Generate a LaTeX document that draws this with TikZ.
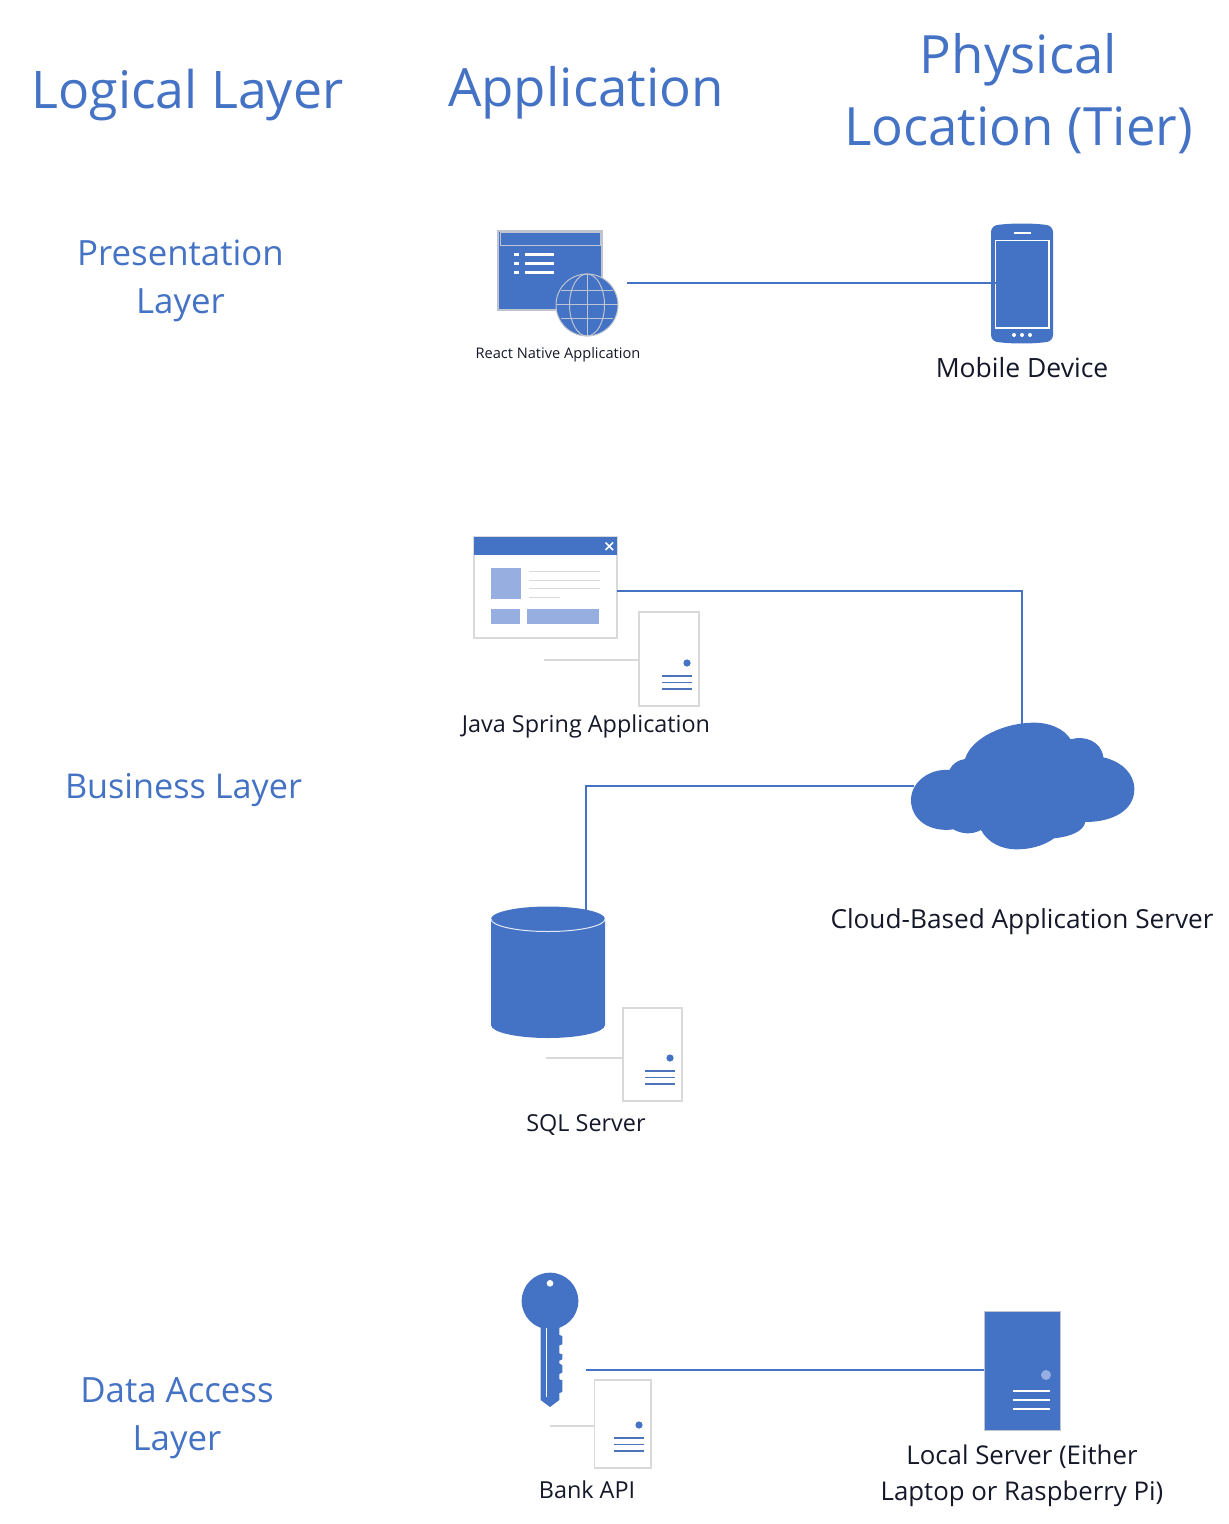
\documentclass[tikz,border=0pt]{standalone}
\usepackage{fontspec}
\setmainfont{Open Sans}
\usetikzlibrary{
  arrows.meta,
  positioning,
  calc
}
\definecolor{tierblue}{RGB}{68,114,196}
\definecolor{tierpale}{RGB}{150,174,224}
\definecolor{iconedge}{RGB}{217,217,217}
\definecolor{gridgray}{RGB}{190,196,208}
\definecolor{labelink}{RGB}{20,24,40}

% small white server box with its dot and three bars
\newcommand{\srvicon}[5]{%
  \draw[srvedge] (#1,#2) rectangle (#3,#4);
  \coordinate (srvlead#5) at (#1,#2);
  \fill[tierblue] ($(#3,#4)+(-12,-43)$) circle (3.6);
  \foreach \barup in {30,23.5,17} {
    \draw[srvbar] ($(#3,#4)+(-37,-\barup)$) -- ($(#3,#4)+(-7,-\barup)$);
  }
}

\begin{document}
\begin{tikzpicture}[
  x=0.5pt, y=-0.5pt,
  every node/.style={inner sep=0pt, text=labelink},
  headtext/.style={font=\fontsize{26.4}{36}\selectfont, text=tierblue, align=center},
  layertext/.style={font=\fontsize{17.4}{24}\selectfont, text=tierblue, align=center},
  icontext/.style={font=\fontsize{13.1}{18}\selectfont, align=center},
  smalltext/.style={font=\fontsize{11.7}{16}\selectfont},
  tinytext/.style={font=\fontsize{7.3}{10}\selectfont},
  link/.style={draw=tierblue, line width=0.75pt},
  srvedge/.style={draw=iconedge, fill=white, line width=0.75pt},
  srvbar/.style={draw=tierblue!85!gray, line width=0.95pt},
  leadline/.style={draw=iconedge, line width=0.6pt},
  >=Stealth
]
\useasboundingbox (0,0) rectangle (1229,1524);

% column and row titles
\node[headtext, font=\fontsize{25.9}{36}\selectfont] (logical) at (187.5,95) {Logical Layer};
\node[headtext] (appcol) at (586,93) {Application};
\node[headtext] (physical) at (1018.5,93.5) {Physical\\Location (Tier)};

\node[layertext] (preslayer) at (180.5,281) {Presentation\\Layer};
\node[layertext, font=\fontsize{17.1}{24}\selectfont] (busilayer) at (183.5,790) {Business Layer};
\node[layertext] (datalayer) at (177,1418) {Data Access\\Layer};

% web application window and globe
\fill[tierblue] (498,231) rectangle (602,310);
\draw[gridgray, line width=0.6pt] (498,231) rectangle (602,310);
\draw[gridgray, line width=0.5pt] (500,233) rectangle (600,246);
\foreach \rowy in {255,264,273} {
  \fill[white] (514,\rowy-1.5) rectangle (519,\rowy+1.5);
  \fill[white] (525,\rowy-1.5) rectangle (554,\rowy+1.5);
}
\fill[tierblue] (587,305) circle (31);
\draw[gridgray, line width=0.5pt] (587,305) circle (31);
\draw[gridgray, line width=0.5pt] (587,305) circle [x radius=17.5, y radius=31];
\draw[gridgray, line width=0.5pt] (587,274) -- (587,336);
\draw[gridgray, line width=0.5pt] (556,305) -- (618,305);
\draw[gridgray, line width=0.5pt] (561,291) -- (613,291);
\draw[gridgray, line width=0.5pt] (561,318.5) -- (613,318.5);
\node[tinytext] (reactlabel) at (558,355) {React Native Application};

% mobile phone
\fill[tierblue, rounded corners=3pt] (991,226) .. controls (1010,223) and (1034,223) .. (1053,226) -- (1053,341) .. controls (1034,344) and (1010,344) .. (991,341) -- cycle;
\draw[white, line width=0.6pt] (995.5,240.5) rectangle (1049,328);
\draw[white, line width=0.6pt] (1014,233) -- (1031,233);
\foreach \dotx in {1014,1022,1030} {
  \fill[white] (\dotx,335) circle (2);
}
\node[icontext, font=\fontsize{13.25}{18}\selectfont] (mobilelabel) at (1022,367.5) {Mobile Device};

% java spring window
\draw[srvedge] (474,537) rectangle (617,638);
\fill[tierblue] (474,537) rectangle (617,555);
\draw[white, line width=0.8pt] (605.5,542.5) -- (613,550) (605.5,550) -- (613,542.5);
\fill[tierpale] (491,568) rectangle (521,599);
\fill[tierpale] (491,609) rectangle (520,624);
\fill[tierpale] (527,609) rectangle (599,624);
\foreach \rowy in {571,580,588} {
  \draw[iconedge, line width=0.5pt] (529,\rowy) -- (600,\rowy);
}
\draw[iconedge, line width=0.5pt] (529,597) -- (560,597);
\coordinate (javalead) at (544,660);
\srvicon{639}{612}{699}{706}{java}
\draw[leadline] (javalead -| srvleadjava) -- (javalead);
\node[smalltext] (javalabel) at (586,726.5) {Java Spring Application};

% cloud server
\begin{scope}[shift={(900,710)}, x=1/6*1pt, y=-1/6*1pt]
  \fill[tierblue] (148,180) .. controls (158,160) and (175,150) .. (195,147)
    .. controls (215,80) and (320,38) .. (400,38)
    .. controls (450,38) and (490,55) .. (512,88)
    .. controls (555,75) and (605,95) .. (610,142)
    .. controls (665,155) and (703,190) .. (703,238)
    .. controls (703,300) and (640,336) .. (556,336)
    .. controls (550,365) and (510,380) .. (462,385)
    .. controls (430,408) and (390,418) .. (350,418)
    .. controls (300,418) and (262,395) .. (243,360)
    .. controls (215,375) and (185,372) .. (160,358)
    .. controls (90,368) and (33,330) .. (33,270)
    .. controls (33,215) and (90,175) .. (148,180) -- cycle;
\end{scope}
\node[icontext] (cloudlabel) at (1022,922) {Cloud-Based Application Server};

% sql database
\fill[tierblue] (491,919) arc[start angle=180, end angle=360, x radius=57, y radius=12.5]
  -- (605,1025) arc[start angle=0, end angle=180, x radius=57, y radius=13] -- cycle;
\draw[white!85!tierblue, line width=0.5pt] (491,919) arc[start angle=180, end angle=0, x radius=57, y radius=12.5];
\coordinate (sqllead) at (546,1058);
\srvicon{623}{1008}{682}{1101}{sql}
\draw[leadline] (sqllead -| srvleadsql) -- (sqllead);
\node[smalltext] (sqllabel) at (586,1125) {SQL Server};

% key
\begin{scope}[shift={(500,1260)}, x=1/6*1pt, y=-1/6*1pt]
  \fill[tierblue] (150,123) circle (85);
  \fill[tierblue] (122,190) -- (178,190) -- (178,225) -- (187,228) -- (187,253) -- (178,256)
    -- (178,280) -- (187,283) -- (187,298) -- (178,302) -- (178,310) -- (187,316) -- (187,338)
    -- (178,342) -- (178,358) -- (187,361) -- (187,396) -- (178,399) -- (178,420) -- (150,441)
    -- (122,420) -- cycle;
  \fill[white] (150,70) circle (10);
  \draw[white, line width=0.5pt] (138,205) -- (138,412);
\end{scope}
\coordinate (banklead) at (550,1426);
\srvicon{594.5}{1380}{651}{1468}{bank}
\draw[leadline] (banklead -| srvleadbank) -- (banklead);
\node[smalltext] (banklabel) at (587,1490) {Bank API};

% local server
\fill[tierblue] (984,1311) rectangle (1060,1430);
\draw[gridgray, line width=0.5pt] (984,1311) rectangle (1060,1430);
\fill[tierpale] (1046,1375) circle (5);
\foreach \rowy in {1391,1400,1409} {
  \draw[white, line width=1.3pt] (1013,\rowy) -- (1050,\rowy);
}
\node[icontext, font=\fontsize{12.9}{18}\selectfont] (locallabel) at (1022,1476) {Local Server (Either\\Laptop or Raspberry Pi)};

% connector ends
\coordinate (webapp) at (627,283);
\coordinate (phone) at (996,283);
\coordinate (javaapp) at (617,591);
\coordinate (cloudtop) at (1022,724);
\coordinate (cloudleft) at (914,786);
\coordinate (dbtop) at (586,911);
\coordinate (bankapi) at (586,1370);
\coordinate (localsrv) at (984,1370);

\draw[link] (webapp) -- (phone);
\draw[link] (javaapp) -| (cloudtop);
\draw[link] (cloudleft) -| (dbtop);
\draw[link] (bankapi) -- (localsrv);

\end{tikzpicture}
\end{document}
